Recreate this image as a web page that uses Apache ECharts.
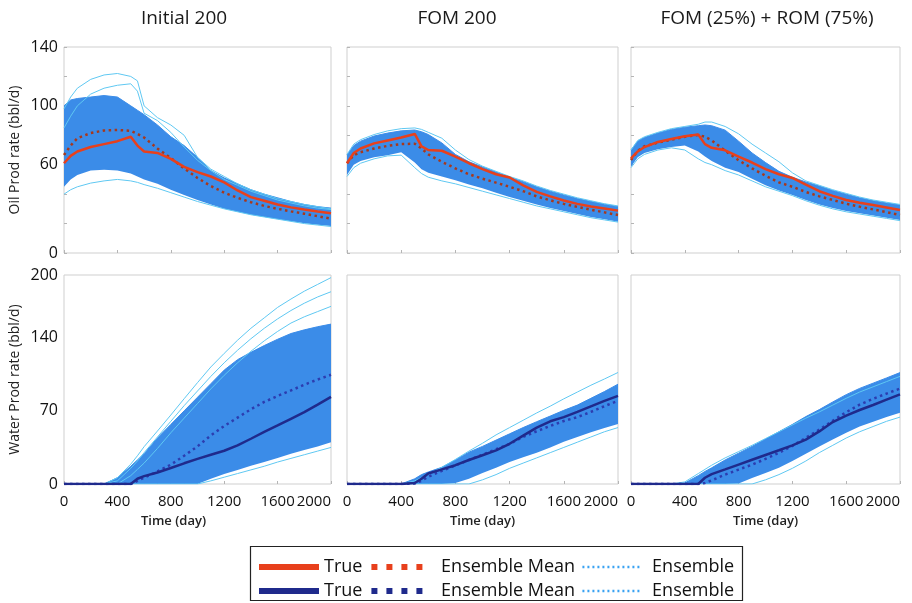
<!DOCTYPE html>
<html>
<head>
<meta charset="utf-8">
<script src="https://cdn.jsdelivr.net/npm/echarts@6/dist/echarts.min.js"></script>
<style>
  html, body { margin: 0; background: #fff; }
  #chart { width: 912px; height: 603px; }
</style>
</head>
<body>
<div id="chart"></div>
<script>
// time axis (days) shared by every curve
const days = [0, 50, 100, 200, 300, 400, 500, 550, 600, 700, 800, 900, 1000, 1100, 1200, 1300, 1400, 1500, 1600, 1700, 1800, 1900, 2000];

const panelTitles = ['Initial 200', 'FOM 200', 'FOM (25%) + ROM (75%)'];
const oilTicks = [0, 60, 100, 140];
const waterTicks = [0, 70, 140, 200];

// --- oil rate, Initial 200
const oilTrue1 = [61, 66, 69, 72, 74, 76, 79, 73, 69, 68, 64, 58.5, 55, 52, 48, 42.5, 38, 35.5, 33, 31, 29.5, 28.2, 27];
const oilMean1 = [66.6, 73, 78, 81.5, 83.3, 83.6, 83, 81, 78.5, 71, 64.5, 57.5, 51, 45.5, 41, 37.5, 34.5, 32, 30, 28.3, 26.7, 25, 23.3];
const oilLo1 = [45, 50, 53, 56, 56.5, 56, 54, 52, 50, 47, 43, 39.5, 36, 33, 30, 28, 26, 24.5, 23, 21.5, 20.3, 19.2, 18.3];
const oilHi1 = [100, 104, 105, 106, 107, 106, 100, 97, 94, 87, 79, 73, 65, 56, 51, 47, 43, 40, 37.5, 35, 33, 31.5, 30.5];
const oilOut1a = [98, 106, 112, 118, 121, 122, 120, 117, 100, 92, 87, 80, 65, 57, 52, 47, 43, 40, 37, 35, 33, 31.5, 30];
const oilOut1b = [85, 93, 100, 108, 112, 114, 115, 110, 95, 90, 82, 72, 63, 56, 50, 46, 42, 39, 36, 34, 32, 30.5, 29.5];
const oilOut1c = [40, 43, 45, 47.5, 49, 50, 49, 48, 46.5, 44, 41, 38, 35, 32.5, 30, 28, 26, 24.5, 23, 21.5, 20, 19, 18];

// --- oil rate, FOM 200
const oilTrue2 = [61, 68, 71, 74.5, 76.5, 78.5, 80.9, 72.5, 70, 69.5, 65.5, 61, 57, 53.5, 51.3, 46, 41.5, 38.5, 35.7, 33.4, 31.6, 30.2, 28.8];
const oilMean2 = [61, 66.5, 68.5, 71, 72.8, 74, 74.3, 71, 67, 62, 57.5, 53.5, 50.5, 47.8, 45, 42, 38.5, 35.8, 33.4, 31.3, 29.4, 27.6, 25.8];
const oilLo2 = [53, 60, 62.5, 65, 66.5, 68.5, 61.5, 57, 54.5, 52, 49.5, 46.5, 44, 41, 38, 35.5, 33, 30.5, 28.5, 26.5, 24.5, 23, 21.3];
const oilHi2 = [66.6, 73, 76, 79.5, 81.5, 83, 83.6, 82.4, 80.5, 74.8, 67, 62, 58.5, 55, 51.5, 48.5, 45, 42, 39.5, 37, 35, 33.2, 31.5];
const oilOut2a = [67, 74, 77, 80.5, 83, 84.5, 85, 84, 82, 78, 70, 63.5, 59, 55.5, 52, 49, 45.5, 42.5, 40, 37.5, 35.5, 33.5, 32];
const oilOut2b = [52, 58, 61, 64, 66, 66.5, 58, 54, 51.5, 49, 47, 44.5, 42, 39.5, 37, 34.5, 32, 30, 28, 26, 24, 22.5, 21];

// --- oil rate, FOM (25%) + ROM (75%)
const oilTrue3 = [64.3, 69, 72, 75.5, 77.5, 79.3, 80.5, 74, 71.5, 69.8, 65.5, 61.5, 57, 53.5, 51, 46.5, 42, 38.8, 36, 34.2, 32.6, 30.9, 29.2];
const oilMean3 = [63.2, 69.5, 72.5, 75, 77, 79, 80.2, 79, 76.5, 69.5, 63, 57.5, 52.5, 48, 45, 41.5, 38.5, 36, 33.5, 31.5, 29.6, 27.8, 25.8];
const oilLo3 = [58.7, 65, 68, 70.5, 72, 73, 69, 65.5, 62.5, 58, 55, 50.5, 46, 42.5, 39.5, 36, 33, 30.5, 28.5, 27, 25.5, 24, 22.4];
const oilHi3 = [70, 76, 78.5, 81.5, 84, 85.5, 86.5, 87, 86.5, 83.5, 76, 68, 61.5, 55.5, 51.5, 48.3, 45.5, 42.5, 40, 37.5, 35.5, 34, 32.6];
const oilOut3a = [70, 76.5, 79, 82, 84.5, 86, 87.5, 89, 89, 86, 81, 74, 68, 62, 54.5, 49, 46, 43, 40.5, 38, 36, 34.5, 33];
const oilOut3b = [58, 64, 67, 70, 71.5, 70, 64, 61.5, 60, 56, 53, 49, 45, 42, 39, 35.5, 32.5, 30, 28, 26.5, 25, 23.5, 22];

// --- water rate, Initial 200
const waterTrue1 = [0, 0, 0, 0, 0, 0, 0, 5, 7.5, 11, 15.3, 19.8, 24, 28, 31.8, 37, 43.3, 49.8, 56, 62.4, 68.8, 76, 83.4];
const waterMean1 = [0, 0, 0, 0, 0, 0, 0, 3, 6, 12, 18.5, 27, 36, 46.5, 55.5, 63.5, 71.5, 78.5, 84.3, 89.5, 95, 100, 104.5];
const waterLo1 = [0, 0, 0, 0, 0, 0, 0, 0, 0, 0, 0, 0, 0, 5, 9.5, 13.5, 17.5, 21, 25, 29, 32.5, 36, 40];
const waterHi1 = [0, 0, 0, 0, 0, 6, 17, 23, 29, 44, 57, 70, 83, 96, 109, 119, 126, 132.5, 138.5, 144, 147.5, 150.5, 153];
const waterOut1a = [0, 0, 0, 0, 0, 6, 19, 27, 35.7, 50.7, 66, 81.6, 97, 112, 125, 137.6, 149, 159, 169, 177, 184.5, 191, 197.5];
const waterOut1b = [0, 0, 0, 0, 0, 3, 15, 22, 30, 45, 60, 75, 89, 103, 116, 128, 139, 149, 158, 166, 173, 179, 184];
const waterOut1c = [0, 0, 0, 0, 0, 0, 8, 14, 20, 34, 49, 63, 77, 91, 104, 116, 127, 137, 146, 154, 160, 165, 170];
const waterOut1d = [0, 0, 0, 0, 0, 0, 0, 0, 0, 0, 0, 0, 0, 3, 6.5, 10, 13.5, 17, 21, 24.5, 28, 31.5, 35];

// --- water rate, FOM 200
const waterTrue2 = [0, 0, 0, 0, 0, 0, 1, 5, 10, 14, 18, 23, 27.5, 32.2, 38.5, 46.3, 54, 60, 64, 69, 74.3, 79.5, 84.4];
const waterMean2 = [0, 0, 0, 0, 0, 0, 0.5, 3, 7, 12.5, 17.7, 23, 28, 33.3, 38.4, 45, 50.5, 55.6, 60.3, 64, 69, 74.5, 79.6];
const waterLo2 = [0, 0, 0, 0, 0, 0, 0, 0, 0, 0, 1, 5, 10.5, 15.5, 21, 25.5, 30, 35, 40.5, 45, 49.5, 53.5, 57.3];
const waterHi2 = [0, 0, 0, 0, 0, 0, 5, 9, 11.5, 16, 23, 30.5, 36, 42, 48, 54, 59.6, 65, 70.5, 75.5, 82, 88.5, 95.5];
const waterOut2a = [0, 0, 0, 0, 0, 0, 3, 6, 9, 16, 23.5, 31.5, 39, 47, 54, 61, 68, 74.5, 81.5, 88, 94.5, 100.5, 106.7];
const waterOut2b = [0, 0, 0, 0, 0, 0, 0, 0, 0, 0, 0, 0, 4, 9, 15, 20, 25, 30, 35, 40, 45, 50, 54];

// --- water rate, FOM (25%) + ROM (75%)
const waterTrue3 = [0, 0, 0, 0, 0, 0, 0, 6, 9.5, 14, 18.6, 23.2, 27.8, 32.3, 37, 42.5, 50.3, 59.3, 65.5, 70.8, 75.6, 80.7, 85.8];
const waterMean3 = [0, 0, 0, 0, 0, 0, 0, 1, 3.5, 9, 13.8, 18.5, 24, 29.8, 36.5, 44.2, 52, 60.5, 68.7, 76, 81.5, 86.5, 91.3];
const waterLo3 = [0, 0, 0, 0, 0, 0, 0, 0, 0, 0, 0.5, 5.7, 10.5, 15.5, 22, 29, 36, 42.5, 49, 55, 59.5, 64, 68.3];
const waterHi3 = [0, 0, 0, 0, 0, 1, 8, 12, 15.5, 23, 29.5, 36, 43, 50, 57, 64.5, 71.2, 78.5, 85.5, 91.5, 96.5, 101.5, 106.6];
const waterOut3a = [0, 0, 0, 0, 0, 0, 0, 0, 0, 0, 0, 0, 4, 9, 15, 22, 30, 37, 44, 50, 55, 60, 64];
const waterOut3b = [0, 0, 0, 0, 0, 2, 10, 14, 18, 25, 31, 37, 43.5, 50, 56.5, 63, 69, 75.5, 82, 88, 93, 98, 103];

const FONT = '"Open Sans", "Noto Sans", sans-serif';
const RED = '#e8401c';
const RED_MEAN = '#a8381c';
const NAVY = '#1f2a8c';
const NAVY_MEAN = '#2c3db0';
const BAND = '#3b8ce8';
const CYAN = '#5fc8f2';

const panels = [
    { hi: oilHi1, lo: oilLo1, mean: oilMean1, truth: oilTrue1, out: [oilOut1a, oilOut1b, oilOut1c], oil: true },
    { hi: oilHi2, lo: oilLo2, mean: oilMean2, truth: oilTrue2, out: [oilOut2a, oilOut2b], oil: true },
    { hi: oilHi3, lo: oilLo3, mean: oilMean3, truth: oilTrue3, out: [oilOut3a, oilOut3b], oil: true },
    { hi: waterHi1, lo: waterLo1, mean: waterMean1, truth: waterTrue1, out: [waterOut1a, waterOut1b, waterOut1c, waterOut1d], oil: false },
    { hi: waterHi2, lo: waterLo2, mean: waterMean2, truth: waterTrue2, out: [waterOut2a, waterOut2b], oil: false },
    { hi: waterHi3, lo: waterLo3, mean: waterMean3, truth: waterTrue3, out: [waterOut3a, waterOut3b], oil: false },
];

const cols = [{ left: 64, width: 267 }, { left: 347, width: 271 }, { left: 631, width: 269 }];
const grids = [0, 1, 2, 3, 4, 5].map((k) => ({
    left: cols[k % 3].left,
    width: cols[k % 3].width,
    top: k < 3 ? 47 : 275,
    height: k < 3 ? 206 : 209,
    show: true,
    borderColor: '#cfcfcf',
    borderWidth: 1,
}));

const pairs = (arr) => days.map((d, i) => [d, arr[i]]);
// rate first, day second: the stack then sums the rate dimension
const flipped = (arr) => days.map((d, i) => [arr[i], d]);

const series = [];
panels.forEach((p, k) => {
    const base = { type: 'line', xAxisIndex: k, yAxisIndex: k, symbol: 'none', silent: true };
    const tag = p.oil ? ' (oil)' : ' (water)';
    series.push({
        ...base, stack: 'band' + k, encode: { x: 1, y: 0 },
        data: flipped(p.lo), lineStyle: { opacity: 0 }, z: 1,
    });
    series.push({
        ...base, name: 'Ensemble', stack: 'band' + k, encode: { x: 1, y: 0 },
        data: flipped(p.hi.map((v, i) => v - p.lo[i])),
        lineStyle: { color: BAND, width: 1 },
        areaStyle: { color: BAND, opacity: 1 },
        z: 1,
    });
    p.out.forEach((o) => series.push({ ...base, name: 'Ensemble', data: pairs(o), lineStyle: { color: CYAN, width: 1 }, z: 2 }));
    series.push({
        ...base, name: 'Ensemble Mean' + tag, data: pairs(p.mean),
        lineStyle: { color: p.oil ? RED_MEAN : NAVY_MEAN, width: 2.5, type: [2.5, 3.5] },
        z: 3,
    });
    series.push({
        ...base, name: 'True' + tag, data: pairs(p.truth),
        lineStyle: { color: p.oil ? RED : NAVY, width: 2.5 },
        z: 4,
    });
});

const xAxis = grids.map((g, k) => ({
    type: 'value', gridIndex: k, min: 0, max: 2000, interval: 400,
    axisLine: { show: false },
    splitLine: { show: false },
    axisTick: { inside: true, length: 3, lineStyle: { color: '#b5b5b5' } },
    axisLabel: {
        show: k >= 3, fontSize: 15, color: '#111', margin: 10, fontFamily: FONT,
        showMinLabel: true, showMaxLabel: true, alignMaxLabel: 'right',
        formatter: (v) => String(v),
    },
    name: k >= 3 ? 'Time (day)' : '',
    nameLocation: 'middle',
    nameGap: 31,
    nameTextStyle: { fontSize: 13, fontWeight: 600, color: '#222', fontFamily: FONT, padding: k === 3 ? [0, 48, 0, 0] : 0 },
}));

const yAxis = grids.map((g, k) => {
    const oil = k < 3;
    const ticks = oil ? oilTicks : waterTicks;
    return {
        type: 'value', gridIndex: k, min: 0, max: oil ? 140 : 200, interval: oil ? 20 : 10,
        axisLine: { show: false },
        splitLine: { show: false },
        axisTick: { show: oil, inside: true, length: 3, lineStyle: { color: '#b5b5b5' } },
        axisLabel: {
            show: k % 3 === 0, fontSize: 16, color: '#111', margin: 6, fontFamily: FONT,
            showMinLabel: true, showMaxLabel: true,
            formatter: (v) => (ticks.includes(v) ? String(v) : ''),
        },
        name: k === 0 ? 'Oil Prod rate (bbl/d)' : k === 3 ? 'Water Prod rate (bbl/d)' : '',
        nameLocation: 'middle',
        nameRotate: 90,
        nameGap: 42,
        nameTextStyle: { fontSize: 14, color: '#222', fontFamily: FONT },
    };
});

const noSymbol = { color: 'rgba(0,0,0,0)', opacity: 0, borderWidth: 0 };
const legendBase = {
    left: 251, itemWidth: 60, itemHeight: 14, itemGap: 6, selectedMode: false,
    textStyle: { fontSize: 18, color: '#111', fontFamily: FONT },
    formatter: (n) => (n.startsWith('True') ? 'True' : n.startsWith('Ensemble Mean') ? ' Ensemble Mean' : ' Ensemble'),
};
const legendRow = (tag, color) => [
    { name: 'True' + tag, itemStyle: noSymbol, lineStyle: { color, width: 6, type: 'solid' } },
    { name: 'Ensemble Mean' + tag, itemStyle: noSymbol, lineStyle: { color, width: 6, type: [6, 9], cap: 'butt' } },
    { name: 'Ensemble', itemStyle: noSymbol, lineStyle: { color: '#3aa2f2', width: 2.5, type: [2, 3] } },
];

const chart = echarts.init(document.getElementById('chart'), null, { renderer: 'canvas' });
chart.setOption({
    animation: false,
    textStyle: { fontFamily: FONT },
    grid: grids,
    xAxis,
    yAxis,
    series,
    legend: [
        { ...legendBase, top: 553, data: legendRow(' (oil)', RED) },
        { ...legendBase, top: 577, data: legendRow(' (water)', NAVY) },
    ],
    graphic: [
        ...panelTitles.map((t, i) => ({
            type: 'text', x: [184, 457, 767][i], y: 19,
            style: { text: t, fontSize: 19, fill: '#1a1a1a', fontFamily: FONT, align: 'center', verticalAlign: 'middle' },
        })),
        {
            type: 'rect', shape: { x: 250.5, y: 546.5, width: 492, height: 54 },
            style: { fill: 'none', stroke: '#222', lineWidth: 1.2 }, z: 10,
        },
    ],
});
</script>
</body>
</html>
